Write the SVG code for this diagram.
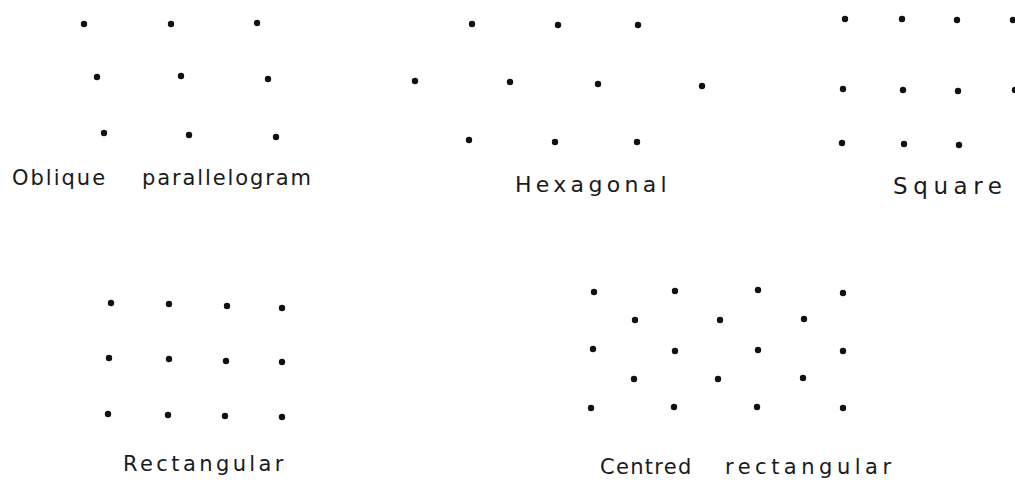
<svg xmlns="http://www.w3.org/2000/svg" width="1015" height="480" viewBox="0 0 1015 480">
<style>
.d{fill:#111}
.t{font-family:"DejaVu Sans","Liberation Sans",sans-serif;font-size:21px;fill:#1a1a1a}
</style>
<rect width="1015" height="480" fill="#fff"/>
<g id="oblique">
<circle class="d" cx="84" cy="24" r="3.2"/><circle class="d" cx="171" cy="24" r="3.2"/><circle class="d" cx="257" cy="23" r="3.2"/>
<circle class="d" cx="97" cy="77" r="3.2"/><circle class="d" cx="181" cy="76" r="3.2"/><circle class="d" cx="268" cy="79" r="3.2"/>
<circle class="d" cx="104" cy="133" r="3.2"/><circle class="d" cx="189" cy="135" r="3.2"/><circle class="d" cx="276" cy="137" r="3.2"/>
<text class="t" y="185"><tspan x="12" letter-spacing="2">Oblique</tspan> <tspan x="142" letter-spacing="1.9">parallelogram</tspan></text>
</g>
<g id="hexagonal">
<circle class="d" cx="472" cy="24" r="3.2"/><circle class="d" cx="558" cy="25" r="3.2"/><circle class="d" cx="638" cy="25" r="3.2"/>
<circle class="d" cx="415" cy="81" r="3.2"/><circle class="d" cx="510" cy="82" r="3.2"/><circle class="d" cx="598" cy="84" r="3.2"/><circle class="d" cx="702" cy="86" r="3.2"/>
<circle class="d" cx="469" cy="140" r="3.2"/><circle class="d" cx="555" cy="142" r="3.2"/><circle class="d" cx="637" cy="142" r="3.2"/>
<text class="t" x="515" y="192" style="font-size:22px" letter-spacing="4.3">Hexagonal</text>
</g>
<g id="square">
<circle class="d" cx="845" cy="19" r="3.2"/><circle class="d" cx="902" cy="19" r="3.2"/><circle class="d" cx="957" cy="20" r="3.2"/><circle class="d" cx="1013" cy="20" r="3.2"/>
<circle class="d" cx="843" cy="89" r="3.2"/><circle class="d" cx="903" cy="90" r="3.2"/><circle class="d" cx="958" cy="91" r="3.2"/><circle class="d" cx="1015" cy="90" r="3.2"/>
<circle class="d" cx="842" cy="143" r="3.2"/><circle class="d" cx="904" cy="144" r="3.2"/><circle class="d" cx="959" cy="145" r="3.2"/>
<text class="t" x="893" y="194" style="font-size:23px" letter-spacing="5.6">Square</text>
</g>
<g id="rectangular">
<circle class="d" cx="111" cy="303" r="3.2"/><circle class="d" cx="169" cy="304" r="3.2"/><circle class="d" cx="227" cy="306" r="3.2"/><circle class="d" cx="282" cy="308" r="3.2"/>
<circle class="d" cx="109" cy="358" r="3.2"/><circle class="d" cx="169" cy="359" r="3.2"/><circle class="d" cx="226" cy="361" r="3.2"/><circle class="d" cx="282" cy="362" r="3.2"/>
<circle class="d" cx="108" cy="414" r="3.2"/><circle class="d" cx="168" cy="415" r="3.2"/><circle class="d" cx="225" cy="416" r="3.2"/><circle class="d" cx="282" cy="417" r="3.2"/>
<text class="t" x="123" y="471" letter-spacing="3.4">Rectangular</text>
</g>
<g id="centred-rectangular">
<circle class="d" cx="594" cy="292" r="3.2"/><circle class="d" cx="675" cy="291" r="3.2"/><circle class="d" cx="758" cy="290" r="3.2"/><circle class="d" cx="843" cy="293" r="3.2"/>
<circle class="d" cx="635" cy="320" r="3.2"/><circle class="d" cx="720" cy="320" r="3.2"/><circle class="d" cx="804" cy="319" r="3.2"/>
<circle class="d" cx="593" cy="349" r="3.2"/><circle class="d" cx="675" cy="351" r="3.2"/><circle class="d" cx="758" cy="350" r="3.2"/><circle class="d" cx="843" cy="351" r="3.2"/>
<circle class="d" cx="634" cy="379" r="3.2"/><circle class="d" cx="718" cy="379" r="3.2"/><circle class="d" cx="803" cy="378" r="3.2"/>
<circle class="d" cx="591" cy="408" r="3.2"/><circle class="d" cx="674" cy="407" r="3.2"/><circle class="d" cx="757" cy="407" r="3.2"/><circle class="d" cx="843" cy="408" r="3.2"/>
<text class="t" y="474"><tspan x="600" letter-spacing="1.3">Centred</tspan> <tspan x="725" letter-spacing="4.5">rectangular</tspan></text>
</g>
</svg>
